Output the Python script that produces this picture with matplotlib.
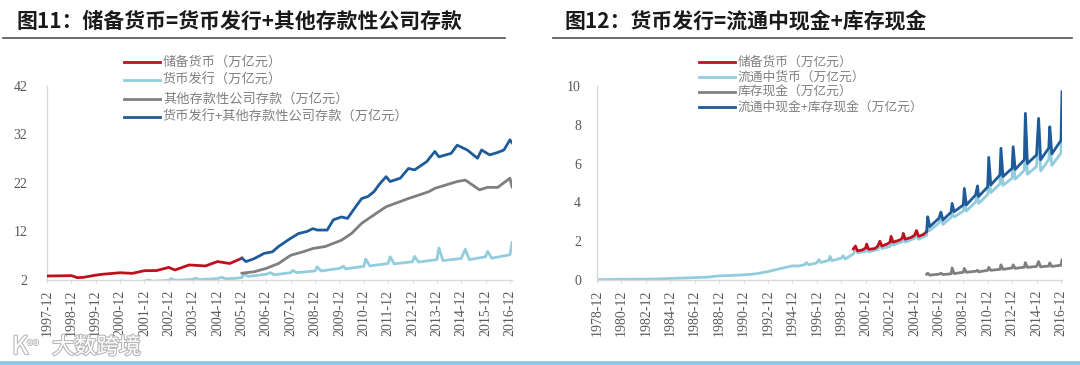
import matplotlib
matplotlib.use("Agg")
import matplotlib.pyplot as plt
from matplotlib.lines import Line2D
import matplotlib.patheffects as pe

plt.rcParams['font.family'] = ['Noto Sans CJK SC', 'DejaVu Sans']

# ---------------- data (万亿元) ----------------
# 图11 left chart
reserve_early_dates = ["1997-12", "1998-12", "1999-03", "1999-06", "1999-12", "2000-03", "2000-12",
                       "2001-06", "2001-12", "2002-06", "2002-12", "2003-03", "2003-10", "2004-06",
                       "2004-12", "2005-06", "2005-12"]
reserve_early_vals = [2.82, 2.9, 2.48, 2.55, 3.0, 3.17, 3.5, 3.37, 3.92, 3.95, 4.6, 4.06, 5.1, 4.9,
                      5.8, 5.4, 6.5]

reserve_late_dates = ["2005-12", "2006-02", "2006-06", "2006-11", "2007-03", "2007-06", "2007-12",
                      "2008-04", "2008-08", "2008-11", "2009-01", "2009-06", "2009-09", "2010-01",
                      "2010-04", "2010-08", "2010-11", "2011-02", "2011-05", "2011-08", "2011-11",
                      "2012-01", "2012-06", "2012-10", "2013-01", "2013-07", "2013-11", "2014-01",
                      "2014-07", "2014-10", "2015-03", "2015-08", "2015-10", "2016-02", "2016-06",
                      "2016-09", "2016-12", "2017-01"]
reserve_late_vals = [6.5, 5.8, 6.4, 7.5, 7.8, 8.9, 10.6, 11.6, 12.0, 12.6, 12.3, 12.3, 14.4, 15.0,
                     14.7, 17.1, 18.8, 19.2, 20.2, 21.9, 23.3, 22.3, 23.0, 25.0, 24.7, 26.4, 28.5,
                     27.4, 28.1, 29.8, 28.8, 27.1, 28.8, 27.8, 28.3, 28.8, 30.9, 30.3]

other_dep_dates = ["2005-12", "2006-06", "2006-12", "2007-06", "2007-12", "2008-06", "2008-11",
                   "2009-05", "2010-01", "2010-06", "2010-11", "2011-06", "2011-11", "2012-10",
                   "2013-08", "2013-11", "2014-10", "2015-02", "2015-09", "2016-01", "2016-06",
                   "2016-12", "2017-01"]
other_dep_vals = [3.4, 3.7, 4.4, 5.4, 7.1, 7.8, 8.5, 8.9, 10.2, 11.6, 13.7, 15.7, 17.1, 18.8,
                  20.2, 20.9, 22.3, 22.6, 20.6, 21.1, 21.1, 23.0, 21.2]

# 货币发行 (used in both charts)
issue_dates = ["1997-12", "1998-02", "1998-04", "1998-12", "1999-02", "1999-04", "1999-12",
               "2000-02", "2000-04", "2000-09", "2000-12", "2001-01", "2001-03", "2001-09",
               "2001-12", "2002-02", "2002-04", "2002-09", "2002-12", "2003-01", "2003-03",
               "2003-09", "2003-12", "2004-01", "2004-03", "2004-09", "2004-12", "2005-02",
               "2005-04", "2005-09", "2005-12", "2006-01", "2006-03", "2006-12", "2007-02",
               "2007-04", "2007-12", "2008-01", "2008-03", "2008-12", "2009-01", "2009-03",
               "2009-12", "2010-02", "2010-03", "2010-12", "2011-01", "2011-03", "2011-12",
               "2012-01", "2012-03", "2012-12", "2013-01", "2013-03", "2013-12", "2014-01",
               "2014-03", "2014-12", "2015-02", "2015-04", "2015-12", "2016-01", "2016-03",
               "2016-12", "2017-01"]
issue_vals = [1.14, 1.35, 1.15, 1.25, 1.4, 1.25, 1.6, 1.75, 1.5, 1.55, 1.65, 1.85, 1.58, 1.62,
              1.75, 2.0, 1.75, 1.85, 1.95, 2.25, 1.95, 2.05, 2.15, 2.4, 2.1, 2.2, 2.3, 2.55,
              2.25, 2.35, 2.5, 3.26, 2.75, 3.18, 3.5, 3.09, 3.5, 3.95, 3.52, 3.87, 4.72, 3.87,
              4.38, 4.85, 4.3, 4.8, 6.32, 4.9, 5.41, 6.79, 5.33, 5.76, 6.87, 5.7, 6.2, 8.59,
              6.0, 6.45, 8.33, 6.2, 6.8, 7.9, 6.5, 7.2, 9.7]

# 图12 right chart
m0_dates = ["1978-12", "1979-12", "1980-12", "1981-12", "1982-12", "1983-12", "1984-12", "1985-12",
            "1986-12", "1987-12", "1988-12", "1989-12", "1990-12", "1991-12", "1992-12", "1993-12",
            "1994-12", "1995-06", "1995-12", "1996-02", "1996-04", "1996-12", "1997-02", "1997-04",
            "1997-12", "1998-01", "1998-03", "1998-12", "1999-02", "1999-04", "1999-12", "2000-02",
            "2000-04", "2000-12", "2001-01", "2001-03", "2001-12", "2002-02", "2002-04", "2002-12",
            "2003-01", "2003-03", "2003-12", "2004-01", "2004-03", "2004-12", "2005-02", "2005-04",
            "2005-12", "2006-01", "2006-03", "2006-12", "2007-02", "2007-04", "2007-12", "2008-01",
            "2008-03", "2008-12", "2009-01", "2009-03", "2009-12", "2010-02", "2010-03", "2010-12",
            "2011-01", "2011-03", "2011-12", "2012-01", "2012-03", "2012-12", "2013-01", "2013-03",
            "2013-12", "2014-01", "2014-03", "2014-12", "2015-02", "2015-04", "2015-12", "2016-01",
            "2016-03", "2016-12", "2017-01"]
m0_vals = [0.021, 0.027, 0.035, 0.040, 0.044, 0.053, 0.079, 0.099, 0.122, 0.146, 0.213, 0.234,
           0.264, 0.318, 0.434, 0.587, 0.729, 0.72, 0.79, 0.9, 0.78, 0.88, 1.05, 0.9, 1.02, 1.22,
           1.0, 1.12, 1.25, 1.08, 1.35, 1.6, 1.4, 1.47, 1.7, 1.45, 1.57, 1.85, 1.62, 1.73, 2.05,
           1.8, 1.97, 2.25, 1.95, 2.15, 2.4, 2.1, 2.3, 2.95, 2.55, 2.93, 3.2, 2.86, 3.23, 3.45,
           3.25, 3.55, 4.25, 3.55, 4.02, 4.45, 3.95, 4.4, 5.8, 4.5, 4.95, 6.15, 4.88, 5.25,
           6.2, 5.2, 5.65, 7.8, 5.45, 5.85, 7.5, 5.62, 6.2, 7.15, 5.9, 6.55, 8.8]

vault_dates = ["2005-12", "2006-01", "2006-03", "2006-12", "2007-02", "2007-04", "2007-12",
               "2008-01", "2008-03", "2008-12", "2009-01", "2009-03", "2009-12", "2010-02",
               "2010-03", "2010-12", "2011-01", "2011-03", "2011-12", "2012-01", "2012-03",
               "2012-12", "2013-01", "2013-03", "2013-12", "2014-01", "2014-03", "2014-12",
               "2015-02", "2015-04", "2015-12", "2016-01", "2016-03", "2016-12", "2017-01"]
vault_vals = [0.3, 0.35, 0.25, 0.3, 0.35, 0.28, 0.32, 0.62, 0.33, 0.4, 0.6, 0.4, 0.45, 0.5,
              0.42, 0.5, 0.65, 0.5, 0.55, 0.78, 0.55, 0.62, 0.78, 0.6, 0.66, 0.9, 0.65, 0.7,
              0.95, 0.68, 0.72, 0.88, 0.7, 0.76, 1.03]

left_ticks = ["%d-12" % y for y in range(1997, 2017)]
right_ticks = ["%d-12" % y for y in range(1978, 2017, 2)]

left_title = "图11：储备货币=货币发行+其他存款性公司存款"
right_title = "图12：货币发行=流通中现金+库存现金"
left_labels = ["储备货币（万亿元）", "货币发行（万亿元）", "其他存款性公司存款（万亿元）",
               "货币发行+其他存款性公司存款（万亿元）"]
right_labels = ["储备货币（万亿元）", "流通中货币（万亿元）", "库存现金（万亿元）",
                "流通中现金+库存现金（万亿元）"]

RED = "#C0101E"
LBLUE = "#93CDDD"
GRAY = "#7F7F7F"
BLUE = "#1F5B98"


def m(s):
    y, mo = s.split("-")
    return int(y) * 12 + int(mo) - 1


def xs(dates):
    return [m(d) for d in dates]


W, H = 1080, 365
fig = plt.figure(figsize=(W / 100, H / 100), dpi=100)


def fx(px):
    return px / W


def fy(py):
    return 1 - py / H


axL = fig.add_axes([fx(47), fy(280), fx(512 - 47), fy(86) - fy(280)])
axR = fig.add_axes([fx(597), fy(280), fx(1062 - 597), fy(86) - fy(280)])

LW = 2.0
# left chart
axL.plot(xs(issue_dates), issue_vals, color=LBLUE, lw=LW, zorder=2)
axL.plot(xs(reserve_early_dates), reserve_early_vals, color=RED, lw=LW, zorder=3)
axL.plot(xs(other_dep_dates), other_dep_vals, color=GRAY, lw=LW, zorder=3)
axL.plot(xs(reserve_late_dates), reserve_late_vals, color=BLUE, lw=LW, zorder=4)

# right chart
i_start = issue_dates.index("1999-12")
i_mid = issue_dates.index("2005-12")
axR.plot(xs(m0_dates), m0_vals, color=LBLUE, lw=LW, zorder=2)
axR.plot(xs(issue_dates[i_start:i_mid + 1]), issue_vals[i_start:i_mid + 1], color=RED, lw=LW, zorder=3)
axR.plot(xs(vault_dates), vault_vals, color=GRAY, lw=LW, zorder=3)
axR.plot(xs(issue_dates[i_mid:]), issue_vals[i_mid:], color=BLUE, lw=LW, zorder=4)

axL.set_xlim(m("1997-12"), m("2017-01"))
axL.set_ylim(2, 42)
axL.set_yticks([2, 12, 22, 32, 42])
axL.set_xticks(xs(left_ticks))
axL.set_xticklabels(left_ticks)

axR.set_xlim(m("1978-12"), m("2017-01"))
axR.set_ylim(0, 10)
axR.set_yticks([0, 2, 4, 6, 8, 10])
axR.set_xticks(xs(right_ticks))
axR.set_xticklabels(right_ticks)

for ax, ypad in ((axL, 14), (axR, 11.5)):
    for s in ("top", "right"):
        ax.spines[s].set_visible(False)
    for s in ("left", "bottom"):
        ax.spines[s].set_color("#D9D9D9")
        ax.spines[s].set_linewidth(1.0)
    ax.tick_params(axis="y", length=0, pad=ypad, labelcolor="#595959", labelsize=10)
    ax.tick_params(axis="x", length=2, color="#D9D9D9", pad=5, labelcolor="#595959",
                   labelsize=10, labelrotation=90)
    for lab in ax.get_xticklabels() + ax.get_yticklabels():
        lab.set_fontfamily(["Liberation Serif", "DejaVu Serif"])
    ax.set_facecolor("none")

# titles and underlines
fig.text(fx(17), fy(21), left_title, fontsize=15, fontweight="bold", color="#1A1A1A",
         ha="left", va="center")
fig.text(fx(565), fy(21), right_title, fontsize=15, fontweight="bold", color="#1A1A1A",
         ha="left", va="center")
fig.add_artist(Line2D([fx(3), fx(505)], [fy(38), fy(38)], color="#505050", lw=1.2))
fig.add_artist(Line2D([fx(553), fx(1072)], [fy(38), fy(38)], color="#505050", lw=1.2))

# legends
def legend(x0, x1, tx, ys, labels, size):
    colors = [RED, LBLUE, GRAY, BLUE]
    for yy, lab, c in zip(ys, labels, colors):
        fig.add_artist(Line2D([fx(x0), fx(x1)], [fy(yy), fy(yy)], color=c, lw=2.0))
        fig.text(fx(tx), fy(yy), lab, fontsize=size, color="#808080", ha="left", va="center")


legend(124, 160, 163, [62, 80, 99, 117], left_labels, 9.5)
legend(699, 735, 738, [62, 77, 92, 107], right_labels, 9.2)

# watermark & bottom band
fig.text(fx(52), fy(347), "大数跨境", fontsize=16, color="white", ha="left", va="center",
         path_effects=[pe.withStroke(linewidth=1.6, foreground="#B8B8B8")])
fig.text(fx(12), fy(347), "K", fontsize=18, color="white", ha="left", va="center",
         path_effects=[pe.withStroke(linewidth=1.6, foreground="#B8B8B8")])
fig.text(fx(27), fy(342), "oo", fontsize=7, color="white", ha="left", va="center",
         path_effects=[pe.withStroke(linewidth=1.2, foreground="#B8B8B8")])
fig.add_artist(Line2D([0, 1], [fy(362.5), fy(362.5)], color="#86C5E0", lw=2.6))

fig.savefig("out.png", dpi=100)
